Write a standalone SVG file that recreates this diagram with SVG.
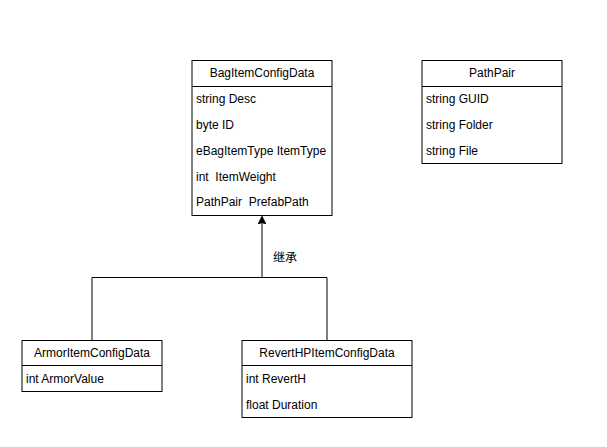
<svg xmlns="http://www.w3.org/2000/svg" width="607" height="447" viewBox="0 0 607 447">
<style>
.box{fill:#fff;stroke:#000;stroke-width:1}
.sep{stroke:#000;stroke-width:1}
.t{font-family:"Liberation Sans",Arial,"Noto Sans CJK SC",sans-serif;font-size:12px;fill:#000;white-space:pre}
.h{text-anchor:middle}
.edge{fill:none;stroke:#000;stroke-width:1}
</style>
<defs>
<marker id="arr" viewBox="0 0 10 10" refX="9" refY="5" markerWidth="8" markerHeight="8" markerUnits="userSpaceOnUse" orient="auto">
<path d="M0,0 L10,5 L0,10 L2,5 Z" fill="#000" stroke="#000"/>
</marker>
</defs>
<rect width="607" height="447" fill="#fff"/>
<g id="connectors">
<path class="edge" d="M262,277.5 L262,217" marker-end="url(#arr)"/>
<path class="edge" d="M92,340 L92,277.5 L327,277.5 L327,340"/>
<text class="t" x="273" y="262">继承</text>
</g>
<g id="BagItemConfigData">
<rect class="box" x="192" y="60.5" width="140" height="155"/>
<line class="sep" x1="192" y1="86.5" x2="332" y2="86.5"/>
<text class="t h" x="262" y="77">BagItemConfigData</text>
<text class="t" x="196" y="103">string Desc</text>
<text class="t" x="196" y="129">byte ID</text>
<text class="t" x="196" y="155">eBagItemType ItemType</text>
<text class="t" x="196" y="181" xml:space="preserve">int  ItemWeight</text>
<text class="t" x="196" y="206" xml:space="preserve">PathPair  PrefabPath</text>
</g>
<g id="PathPair">
<rect class="box" x="422" y="60.5" width="140" height="103"/>
<line class="sep" x1="422" y1="86.5" x2="562" y2="86.5"/>
<text class="t h" x="492" y="77">PathPair</text>
<text class="t" x="426" y="103">string GUID</text>
<text class="t" x="426" y="129">string Folder</text>
<text class="t" x="426" y="155">string File</text>
</g>
<g id="ArmorItemConfigData">
<rect class="box" x="22" y="340.5" width="140" height="51"/>
<line class="sep" x1="22" y1="365.5" x2="162" y2="365.5"/>
<text class="t h" x="92" y="357">ArmorItemConfigData</text>
<text class="t" x="26" y="383">int ArmorValue</text>
</g>
<g id="RevertHPItemConfigData">
<rect class="box" x="242" y="340.5" width="170" height="77"/>
<line class="sep" x1="242" y1="365.5" x2="412" y2="365.5"/>
<text class="t h" x="327" y="357">RevertHPItemConfigData</text>
<text class="t" x="246" y="383">int RevertH</text>
<text class="t" x="246" y="409">float Duration</text>
</g>
</svg>
